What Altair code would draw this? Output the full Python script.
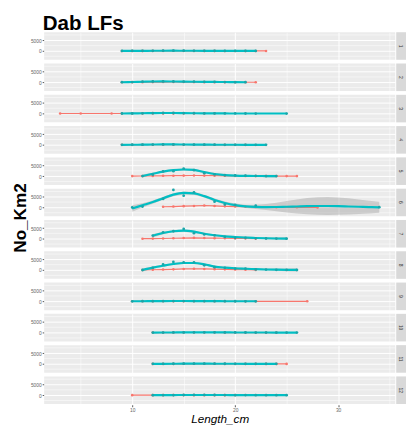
import altair as alt
import pandas as pd

RED = "#F8766D"
TEAL = "#00BFC4"

# ---- data (per facet panel) ----
red_x = {
    1: [9, 10, 11, 12, 13, 14, 15, 16, 17, 18, 19, 20, 21, 22, 23],
    2: [9, 10, 11, 12, 13, 14, 15, 16, 17, 18, 19, 20, 21, 22],
    3: [3, 5, 8, 9, 10, 11, 12, 13, 14, 15, 16, 17, 18],
    4: [9, 10, 11, 12, 13, 14, 15, 16, 17, 18, 19, 20, 21],
    5: [10, 11, 12, 13, 14, 15, 16, 17, 18, 19, 20, 21, 22, 23, 24, 25, 26],
    6: [13, 14, 15, 16, 17, 18, 19, 20, 21, 22, 24, 26, 28],
    7: [11, 12, 13, 14, 15, 16, 17, 18, 19, 20, 21, 22],
    8: [11, 12, 13, 14, 15, 16, 17, 18, 19, 20, 21, 22],
    9: [10, 11, 12, 13, 14, 15, 16, 17, 18, 19, 20, 21, 22, 27],
    10: [12, 13, 14, 15, 16, 17, 18, 19, 20, 21, 22, 23, 24],
    11: [12, 13, 14, 15, 16, 17, 18, 19, 20, 21, 22, 23, 24, 25],
    12: [10, 12, 13, 14, 15, 16, 17, 18, 19, 20],
}
red_y = {
    1: [10, 20, 30, 40, 50, 60, 50, 40, 30, 20, 15, 10, 5, 5, 0],
    2: [10, 20, 40, 60, 80, 100, 80, 60, 40, 30, 20, 10, 5, 0],
    3: [0, 10, 20, 30, 40, 50, 60, 50, 40, 30, 20, 10, 5],
    4: [5, 10, 20, 30, 40, 40, 30, 20, 15, 10, 5, 5, 0],
    5: [0, 50, 100, 150, 200, 250, 300, 250, 200, 150, 100, 80, 50, 30, 20, 10, 0],
    6: [300, 400, 600, 700, 900, 700, 500, 400, 300, 200, 100, 50, 0],
    7: [0, 50, 100, 200, 300, 400, 300, 250, 200, 150, 100, 50],
    8: [0, 100, 200, 300, 500, 600, 500, 400, 300, 200, 100, 50],
    9: [0, 10, 20, 30, 40, 50, 40, 30, 20, 10, 5, 5, 0, 0],
    10: [0, 10, 20, 30, 40, 40, 30, 20, 10, 5, 5, 0, 0],
    11: [0, 10, 20, 30, 40, 40, 30, 20, 10, 5, 5, 0, 0, 0],
    12: [0, 10, 20, 30, 30, 20, 10, 5, 0, 0],
}
teal_x = {
    1: [9, 10, 11, 12, 13, 14, 15, 16, 17, 18, 19, 20, 21, 22],
    2: [9, 10, 11, 12, 13, 14, 15, 16, 17, 18, 19, 20, 21],
    3: [9, 10, 11, 12, 13, 14, 15, 16, 17, 18, 19, 20, 21, 22, 25],
    4: [9, 10, 11, 12, 13, 14, 15, 16, 17, 18, 19, 20, 21, 22, 23],
    5: [11, 12, 13, 14, 15, 16, 17, 18, 19, 20, 21, 22, 23, 24],
    6: [10, 11, 13, 14, 15, 16, 18, 19, 20, 22, 34],
    7: [12, 13, 14, 15, 16, 17, 18, 19, 20, 21, 22, 23, 24, 25],
    8: [11, 12, 13, 14, 15, 16, 17, 18, 19, 20, 21, 22, 23, 24, 25, 26],
    9: [10, 11, 12, 13, 14, 15, 16, 17, 18, 19, 20, 21, 22],
    10: [12, 13, 14, 15, 16, 17, 18, 19, 20, 21, 22, 23, 24, 25, 26],
    11: [12, 13, 14, 15, 16, 17, 18, 19, 20, 21, 22, 23, 24],
    12: [12, 13, 14, 15, 16, 17, 18, 19, 20, 21, 22, 23, 24, 25],
}
teal_y = {
    1: [20, 40, 60, 80, 100, 120, 100, 80, 60, 40, 30, 20, 10, 5],
    2: [20, 100, 250, 350, 400, 350, 300, 250, 200, 150, 100, 50, 20],
    3: [20, 60, 120, 200, 250, 250, 200, 150, 100, 80, 50, 30, 20, 10, 0],
    4: [10, 40, 80, 150, 200, 200, 150, 100, 80, 50, 30, 20, 10, 5, 0],
    5: [0, 700, 2200, 2300, 3500, 2800, 1400, 800, 500, 300, 200, 100, 50, 0],
    6: [0, 400, 4000, 8200, 5500, 7100, 2700, 1400, 1200, 800, 100],
    7: [1500, 3000, 3500, 4600, 2600, 2000, 1600, 850, 400, 400, 200, 100, 50, 0],
    8: [0, 1000, 2600, 3800, 3600, 3600, 2200, 1300, 1000, 600, 600, 300, 200, 100, 50, 0],
    9: [10, 30, 60, 100, 120, 130, 110, 90, 60, 40, 20, 10, 5],
    10: [10, 30, 60, 90, 110, 120, 100, 80, 60, 40, 30, 20, 10, 5, 0],
    11: [10, 30, 60, 90, 110, 100, 80, 60, 40, 30, 20, 10, 5],
    12: [10, 30, 50, 80, 100, 100, 80, 60, 40, 30, 20, 10, 5, 0],
}
# smoothed teal curve and its confidence half-width (panels with a visible curve)
smooth_x = {
    5: [11, 12, 13, 14, 15, 16, 17, 18, 19, 20, 21, 22, 23, 24],
    6: [10, 11, 12, 13, 14, 15, 16, 17, 18, 19, 20, 21, 22, 23, 24, 25, 26, 27, 28, 29, 30, 31, 32, 33, 34],
    7: [12, 13, 14, 15, 16, 17, 18, 19, 20, 21, 22, 23, 24, 25],
    8: [11, 12, 13, 14, 15, 16, 17, 18, 19, 20, 21, 22, 23, 24, 25, 26],
}
smooth_y = {
    5: [50, 1100, 2100, 2800, 3100, 2900, 1900, 1000, 500, 250, 120, 60, 30, 0],
    6: [-500, 1000, 2500, 4300, 6000, 6800, 6600, 5300, 3500, 2100, 1100, 500, 250, 150, 200, 300, 450, 600, 650, 650, 600, 450, 300, 150, 50],
    7: [1400, 2700, 3500, 3800, 3300, 2300, 1600, 1100, 800, 550, 350, 200, 100, 50],
    8: [0, 1100, 2000, 2800, 3300, 3300, 2700, 1600, 1100, 800, 600, 400, 250, 150, 80, 30],
}
smooth_se = {
    5: [700, 500, 450, 450, 450, 450, 450, 450, 450, 450, 450, 500, 600, 700],
    6: [1500, 1000, 800, 700, 700, 700, 700, 700, 700, 700, 700, 800, 1000, 1400, 2000, 2700, 3300, 3800, 4100, 4200, 4100, 3800, 3400, 3000, 2600],
    7: [800, 600, 500, 500, 500, 500, 450, 450, 450, 450, 450, 500, 600, 700],
    8: [700, 550, 500, 450, 450, 450, 450, 450, 450, 450, 450, 450, 500, 550, 650, 750],
}
y_minor_grid = [-2500, 2500, 7500]
panels = list(range(1, 13))

rows = []
for p in panels:
    for x, y in zip(red_x[p], red_y[p]):
        rows.append(dict(panel=p, kind="red", x=x, y=y))
    for x, y in zip(teal_x[p], teal_y[p]):
        rows.append(dict(panel=p, kind="tealpt", x=x, y=y))
    if p in smooth_x:
        for x, y, s in zip(smooth_x[p], smooth_y[p], smooth_se[p]):
            rows.append(dict(panel=p, kind="smooth", x=x, y=y))
            rows.append(dict(panel=p, kind="band", x=x, lo=y - s, hi=y + s))
    else:
        for x, y in zip(teal_x[p], teal_y[p]):
            rows.append(dict(panel=p, kind="smooth", x=x, y=y))
    for g in y_minor_grid:
        rows.append(dict(panel=p, kind="ygrid", y=g))
    rows.append(dict(panel=p, kind="strip", label=str(p)))
df = pd.DataFrame(rows)

W = 359
H = 28.2
FONT = "Liberation Sans"

xscale = alt.Scale(domain=[1.45, 35.55], nice=False, zero=False)
yscale = alt.Scale(domain=[-4150, 8800], nice=False, zero=False)

xaxis = alt.Axis(
    values=[5, 10, 15, 20, 25, 30, 35],
    labelExpr="datum.value % 10 === 0 ? datum.label : ''",
    labelOverlap=False,
    title="Length_cm",
    titleFontStyle="italic",
    titleFontWeight="normal",
    titleFontSize=12,
    titleFont=FONT,
    titleColor="black",
    titlePadding=1,
    labelFontSize=5,
    labelColor="#666666",
    labelPadding=1,
    tickSize=2,
    tickColor="#555555",
    tickOpacity={"condition": {"test": "datum.value % 10 === 0", "value": 1}, "value": 0},
    gridColor="white",
    gridWidth={"condition": {"test": "datum.value % 10 === 0", "value": 1}, "value": 0.5},
    domain=False,
)
yaxis = alt.Axis(
    values=[0, 5000],
    format="d",
    title=None,
    labelOverlap=False,
    labelFontSize=5,
    labelColor="#666666",
    labelPadding=1,
    tickSize=2,
    tickColor="#555555",
    gridColor="white",
    gridWidth=1,
    domain=False,
)

base = alt.Chart()

ygrid = base.transform_filter("datum.kind === 'ygrid'").mark_rule(
    color="white", strokeWidth=0.5
).encode(
    y=alt.Y("y:Q", scale=yscale, axis=yaxis),
)
band = base.transform_filter("datum.kind === 'band'").mark_area(
    color="#999999", opacity=0.4
).encode(
    x=alt.X("x:Q", scale=xscale, axis=xaxis),
    y=alt.Y("lo:Q", scale=yscale),
    y2="hi:Q",
)
strip = base.transform_filter("datum.kind === 'strip'").mark_rect(color="#D9D9D9").encode(
    x=alt.value(W + 1),
    x2=alt.value(W + 11),
    y=alt.value(0),
    y2=alt.value(H),
)
strip_text = base.transform_filter("datum.kind === 'strip'").mark_text(
    angle=90, fontSize=5, color="#333333", font=FONT, align="center", baseline="middle"
).encode(
    x=alt.value(W + 6),
    y=alt.value(H / 2),
    text="label:N",
)
red_line = base.transform_filter("datum.kind === 'red'").mark_line(
    color=RED, strokeWidth=1.2
).encode(x=alt.X("x:Q", scale=xscale), y=alt.Y("y:Q", scale=yscale))
red_pts = base.transform_filter("datum.kind === 'red'").mark_circle(
    color=RED, size=7, opacity=1
).encode(x=alt.X("x:Q", scale=xscale), y=alt.Y("y:Q", scale=yscale))
teal_line = base.transform_filter("datum.kind === 'smooth'").mark_line(
    color=TEAL, strokeWidth=2.2, interpolate="monotone"
).encode(x=alt.X("x:Q", scale=xscale), y=alt.Y("y:Q", scale=yscale))
teal_pts = base.transform_filter("datum.kind === 'tealpt'").mark_circle(
    color="#1AA6A9", size=8, opacity=1
).encode(x=alt.X("x:Q", scale=xscale), y=alt.Y("y:Q", scale=yscale))

layered = alt.layer(
    ygrid, band, strip, strip_text, red_line, red_pts, teal_line, teal_pts
).properties(width=W, height=H)

chart = layered.facet(
    data=df,
    row=alt.Row(
        "panel:O",
        title="No_Km2",
        header=alt.Header(
            titleFont=FONT,
            titleFontSize=17.5,
            titleFontWeight="bold",
            titleColor="black",
            titleOrient="left",
            titlePadding=-10,
            labels=False,
        ),
    ),
    spacing=3,
    bounds="flush",
).properties(
    title=alt.TitleParams(
        "Dab LFs",
        anchor="start",
        font=FONT,
        fontSize=21,
        fontWeight="bold",
        color="black",
        offset=-1.5,
        dx=31,
    ),
    padding={"left": 4, "top": 0, "right": 0, "bottom": 0},
).configure_view(
    fill="#EBEBEB", strokeWidth=0
).configure_axis(
    labelFont=FONT, titleFont=FONT
)

chart.save("out.html", embed_options={"renderer": "svg", "actions": False})
